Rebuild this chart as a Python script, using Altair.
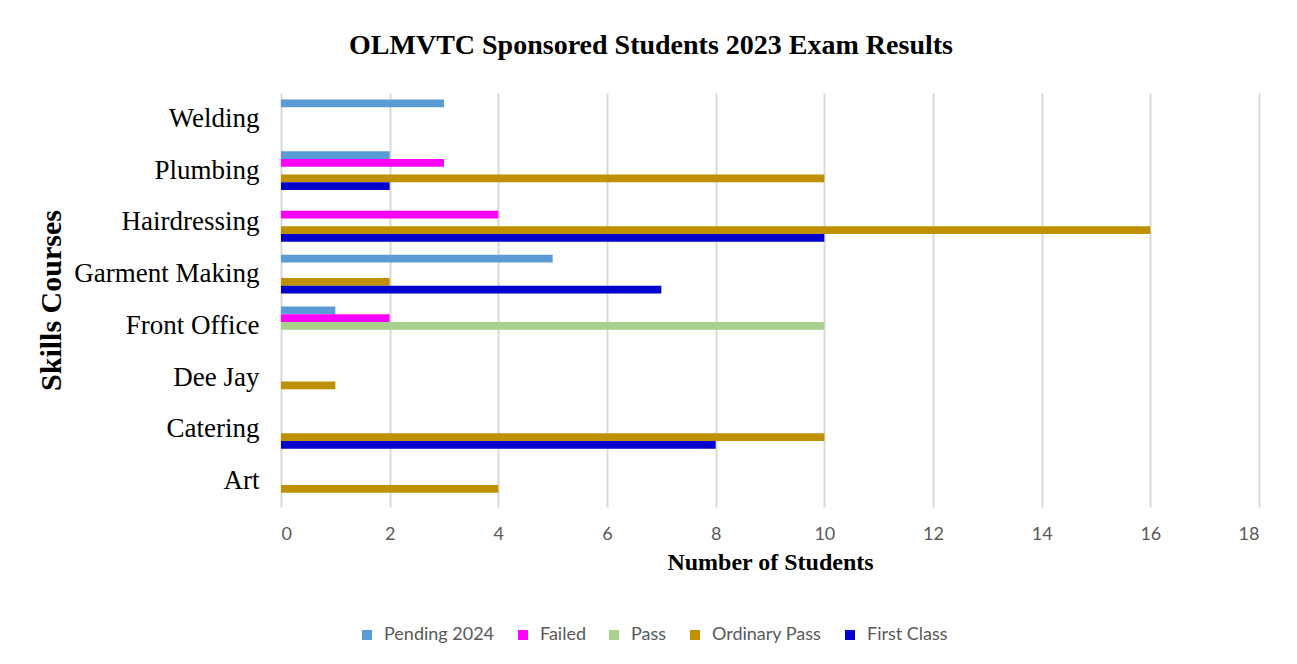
import altair as alt
import pandas as pd

courses = ["Welding", "Plumbing", "Hairdressing", "Garment Making",
           "Front Office", "Dee Jay", "Catering", "Art"]
series = ["Pending 2024", "Failed", "Pass", "Ordinary Pass", "First Class"]
pending_2024 = [3, 2, 0, 5, 1, 0, 0, 0]
failed = [0, 3, 4, 0, 2, 0, 0, 0]
passed = [0, 0, 0, 0, 10, 0, 0, 0]
ordinary_pass = [0, 10, 16, 2, 0, 1, 10, 4]
first_class = [0, 2, 10, 7, 0, 0, 8, 0]
colors = ["#5B9BD5", "#FF00FF", "#A9D18E", "#BF9000", "#0000CC"]
x_ticks = [0, 2, 4, 6, 8, 10, 12, 14, 16, 18]

values = [pending_2024, failed, passed, ordinary_pass, first_class]
rows = []
for s, vals in zip(series, values):
    for c, v in zip(courses, vals):
        rows.append({"Course": c, "Series": s, "Students": v})
df = pd.DataFrame(rows)

serif = "Liberation Serif"
sans = "Lato"

chart = alt.Chart(df).mark_bar().encode(
    x=alt.X("Students:Q",
            scale=alt.Scale(domain=[0, 18], nice=False),
            axis=alt.Axis(values=x_ticks, title="Number of Students", grid=True,
                          gridColor="#d9d9d9", gridWidth=2, domain=False, ticks=False,
                          labelFont=sans, labelFontSize=18, labelColor="#595959",
                          labelPadding=18, titleFont=serif, titleFontSize=24,
                          titleFontWeight="bold", titleColor="#000000",
                          titleX=489, titleY=55, titleBaseline="middle")),
    y=alt.Y("Course:N", sort=courses,
            scale=alt.Scale(paddingInner=0.256, paddingOuter=0.128),
            axis=alt.Axis(title="Skills Courses", domain=False, ticks=False, grid=False,
                          labelFont=serif, labelFontSize=27, labelColor="#000000",
                          labelPadding=22, labelLimit=400,
                          titleFont=serif, titleFontSize=30,
                          titleFontWeight="bold", titleColor="#000000",
                          titleAngle=-90, titleX=-230, titleY=207,
                          titleAlign="center", titleBaseline="middle")),
    yOffset=alt.YOffset("Series:N", sort=series,
                        scale=alt.Scale(domain=series, paddingInner=0, paddingOuter=0)),
    color=alt.Color("Series:N", sort=series,
                    scale=alt.Scale(domain=series, range=colors),
                    legend=alt.Legend(title=None, orient="none", direction="horizontal",
                                      legendX=77, legendY=533, symbolType="square",
                                      symbolSize=100, symbolStrokeWidth=0,
                                      labelOffset=8,
                                      labelFont=sans, labelFontSize=18,
                                      labelColor="#595959", columnPadding=19,
                                      padding=0)),
).properties(
    width=978,
    height=414,
    title=alt.TitleParams("OLMVTC Sponsored Students 2023 Exam Results",
                          font=serif, fontSize=28, fontWeight="bold",
                          color="#000000", anchor="middle", dx=-119, offset=33),
    autosize=alt.AutoSizeParams(type="none"),
    padding={"left": 273, "top": 85, "right": 30, "bottom": 149},
).configure_view(stroke=None)

chart.save("out.html", embed_options={"renderer": "svg", "actions": False})
